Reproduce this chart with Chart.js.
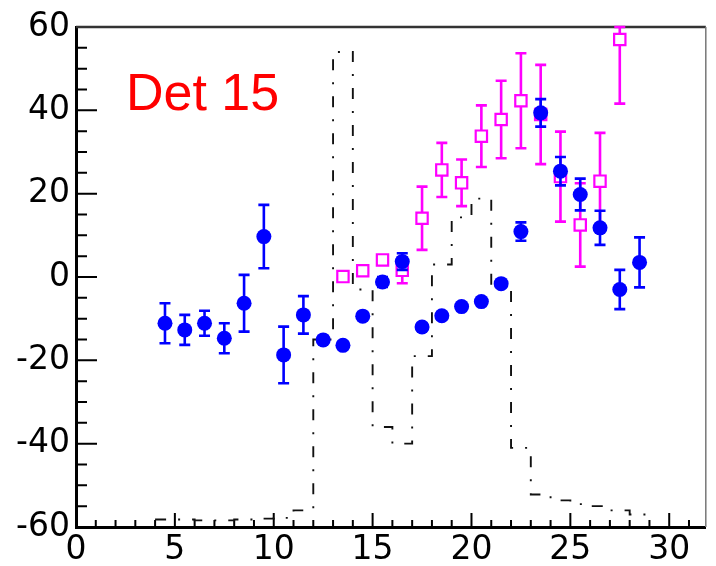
<!DOCTYPE html>
<html>
<head>
<meta charset="utf-8">
<title>Det 15</title>
<script src="https://cdn.jsdelivr.net/npm/chart.js@4.4.0/dist/chart.umd.min.js"></script>
<style>
    html, body { margin: 0; padding: 0; background: #fff; }
</style>
</head>
<body>
<canvas id="detChart" width="716" height="566"></canvas>
<script>
// blue points (filled circles)
const blueX = [4.5, 5.5, 6.5, 7.5, 8.5, 9.5, 10.5, 11.5, 12.5, 13.5, 14.5, 15.5, 16.5,
               17.5, 18.5, 19.5, 20.5, 21.5, 22.5, 23.5, 24.5, 25.5, 26.5, 27.5, 28.5];
const blueY = [-11.1, -12.7, -11.1, -14.7, -6.3, 9.7, -18.7, -9.1, -15.1, -16.4, -9.4, -1.2, 3.7,
               -12.0, -9.3, -7.1, -5.9, -1.6, 10.9, 39.4, 25.4, 19.8, 11.8, -3.0, 3.5];
const blueErr = [4.8, 3.6, 3.0, 3.6, 6.8, 7.6, 6.8, 4.5, 0.8, 0.8, 0.8, 1.2, 2.0,
                 0.8, 0.8, 0.8, 0.8, 0.8, 2.2, 3.3, 3.4, 3.8, 4.1, 4.7, 6.0];

// magenta points (open squares)
const magX = [13.5, 14.5, 15.5, 16.5, 17.5, 18.5, 19.5, 20.5, 21.5, 22.5, 23.5, 24.5, 25.5, 26.5, 27.5];
const magY = [0.1, 1.5, 4.1, 1.6, 14.1, 25.7, 22.6, 33.8, 37.8, 42.3, 39.0, 24.1, 12.5, 23.0, 57.0];
const magErr = [0.5, 0.5, 0.8, 3.1, 7.6, 6.5, 5.6, 7.4, 9.3, 11.4, 11.9, 10.8, 10.0, 11.6, 15.4];

// dash-dot histogram: low bin edges and contents
const histEdges = [4, 5, 6, 7, 8, 9, 10, 11, 12, 13, 14, 15, 16, 17, 18, 19, 20, 21, 22, 23, 24, 25, 26, 27, 28, 29];
const histVals = [-58.2, -58.2, -58.4, -58.4, -58.2, -58.0, -57.8, -56.0, -15.0, 54.0, -3.0, -36.0, -40.0,
                  -19.0, 3.0, 14.3, 18.8, -2.4, -41.0, -52.2, -53.6, -54.5, -55.0, -56.0, -57.0, -57.0];

const xTicks = [0, 5, 10, 15, 20, 25, 30];
const yTicks = [-60, -40, -20, 0, 20, 40, 60];

const tickFont = { family: 'DejaVu Sans', size: 33 };

function drawErrorBars(chart, xs, ys, errs, color) {
    const ctx = chart.ctx;
    const sx = chart.scales.x, sy = chart.scales.y;
    const area = chart.chartArea;
    ctx.save();
    ctx.strokeStyle = color;
    ctx.lineWidth = 2.6;
    xs.forEach((x, i) => {
        const px = sx.getPixelForValue(x);
        const top = Math.max(sy.getPixelForValue(ys[i] + errs[i]), area.top);
        const bot = Math.min(sy.getPixelForValue(ys[i] - errs[i]), area.bottom);
        ctx.beginPath();
        ctx.moveTo(px, top); ctx.lineTo(px, bot);
        ctx.moveTo(px - 5.5, top); ctx.lineTo(px + 5.5, top);
        ctx.moveTo(px - 5.5, bot); ctx.lineTo(px + 5.5, bot);
        ctx.stroke();
    });
    ctx.restore();
}

// inner ticks, frame and label, ROOT style
const framePlugin = {
    id: 'frame',
    beforeDatasetsDraw(chart) {
        const ctx = chart.ctx;
        const { left, right, top, bottom } = chart.chartArea;
        const sx = chart.scales.x, sy = chart.scales.y;
        ctx.save();
        ctx.strokeStyle = '#000';
        ctx.lineWidth = 2;
        ctx.beginPath();
        for (let v = 0; v <= 31; v++) {
            const px = sx.getPixelForValue(v);
            const len = v % 5 === 0 ? 14 : 7;
            ctx.moveTo(px, bottom); ctx.lineTo(px, bottom - len);
        }
        for (let v = -60; v <= 60; v += 5) {
            const py = sy.getPixelForValue(v);
            const len = v % 20 === 0 ? 21 : 11;
            ctx.moveTo(left, py); ctx.lineTo(left + len, py);
        }
        ctx.stroke();

        // top and right edges of the frame
        ctx.strokeStyle = '#333';
        ctx.lineWidth = 2.5;
        ctx.beginPath();
        ctx.moveTo(left, top); ctx.lineTo(right, top);
        ctx.stroke();
        ctx.strokeStyle = '#777';
        ctx.lineWidth = 1.5;
        ctx.beginPath();
        ctx.moveTo(right, top); ctx.lineTo(right, bottom);
        ctx.stroke();

        ctx.fillStyle = '#ff0000';
        ctx.font = '52px "Liberation Sans", Arial, sans-serif';
        ctx.textBaseline = 'alphabetic';
        ctx.fillText('Det 15', 126, 110);
        ctx.restore();
    },
    beforeDatasetDraw(chart, args) {
        if (args.index === 1) drawErrorBars(chart, magX, magY, magErr, '#ff00ff');
        if (args.index === 0) drawErrorBars(chart, blueX, blueY, blueErr, '#0000ff');
    }
};

const ctx = document.getElementById('detChart').getContext('2d');
new Chart(ctx, {
    type: 'scatter',
    data: {
        datasets: [
            {
                label: 'blue',
                data: blueX.map((x, i) => ({ x: x, y: blueY[i] })),
                pointStyle: 'circle',
                pointRadius: 7.5,
                pointBackgroundColor: '#0000ff',
                pointBorderWidth: 0,
                showLine: false
            },
            {
                label: 'magenta',
                data: magX.map((x, i) => ({ x: x, y: magY[i] })),
                pointStyle: 'rect',
                pointRadius: 8,
                pointBackgroundColor: '#ffffff',
                pointBorderColor: '#ff00ff',
                pointBorderWidth: 2.2,
                showLine: false
            },
            {
                label: 'hist',
                data: histEdges.map((x, i) => ({ x: x, y: histVals[i] })),
                showLine: true,
                stepped: 'before',
                borderColor: '#111',
                borderWidth: 1.9,
                borderDash: [11, 12, 2, 12],
                pointRadius: 0,
                fill: false
            }
        ]
    },
    options: {
        responsive: false,
        animation: false,
        events: [],
        layout: { padding: { left: 0, top: 27, right: 3, bottom: 0 } },
        plugins: { legend: { display: false }, tooltip: { enabled: false } },
        scales: {
            x: {
                type: 'linear',
                min: 0,
                max: 31.85,
                afterBuildTicks: s => { s.ticks = xTicks.map(v => ({ value: v })); },
                afterFit: s => { s.height = 39; },
                grid: { drawOnChartArea: false, drawTicks: false },
                border: { display: true, color: '#000', width: 3 },
                ticks: { font: tickFont, color: '#000', padding: 4, maxRotation: 0, autoSkip: false }
            },
            y: {
                type: 'linear',
                min: -60,
                max: 60,
                afterBuildTicks: s => { s.ticks = yTicks.map(v => ({ value: v })); },
                afterFit: s => { s.width = 76; },
                grid: { drawOnChartArea: false, drawTicks: false },
                border: { display: true, color: '#000', width: 3 },
                ticks: { font: tickFont, color: '#000', padding: 6 }
            }
        }
    },
    plugins: [framePlugin]
});
</script>
</body>
</html>
